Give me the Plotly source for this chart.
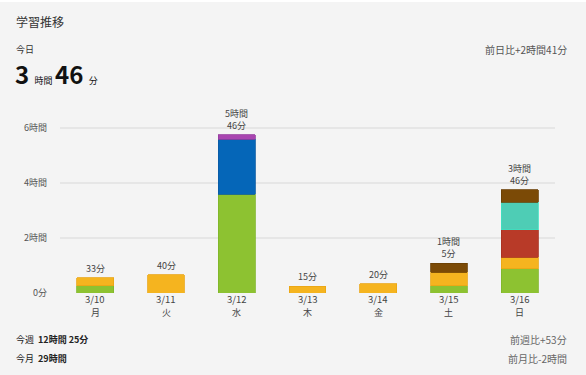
import plotly.graph_objects as go

# ---- data (minutes) ----
dates = ["3/10", "3/11", "3/12", "3/13", "3/14", "3/15", "3/16"]
weekdays = ["月", "火", "水", "木", "金", "土", "日"]
green = [16, 0, 216, 0, 0, 16, 53]
yellow = [17, 40, 0, 15, 20, 29, 25]
blue = [0, 0, 120, 0, 0, 0, 0]
purple = [0, 0, 10, 0, 0, 0, 0]
red = [0, 0, 0, 0, 0, 0, 60]
teal = [0, 0, 0, 0, 0, 0, 60]
brown = [0, 0, 0, 0, 0, 20, 28]
ytick_vals = [0, 120, 240, 360]
ytick_text = ["0分", "2時間", "4時間", "6時間"]

series = [
    ("教科1", green, "#8dc231", "#7fb52a"),
    ("教科2", yellow, "#f5b41f", "#eaa514"),
    ("教科3", blue, "#0566b8", "#0a5aa3"),
    ("教科4", purple, "#a845b0", "#963c9f"),
    ("教科5", red, "#b83a28", "#a83220"),
    ("教科6", teal, "#4ecdb5", "#3fe0c0"),
    ("教科7", brown, "#7b4a06", "#6a3f04"),
]

FONT = "Noto Sans CJK JP"

fig = go.Figure()
for name, vals, col, edge in series:
    fig.add_trace(go.Bar(
        x=dates, y=[v if v else None for v in vals], name=name,
        marker=dict(color=col, line=dict(color=edge, width=0.8)),
        hoverinfo="skip",
    ))

# pixel helpers for page-level text
L, R, T, B = 60, 31, 110, 82
W, H = 586, 375
pw, ph = W - L - R, H - T - B
def px(x):
    return (x - L) / pw
def py(y):
    return (H - B - y) / ph

totals = [sum(s[1][i] for s in series) for i in range(len(dates))]
annotations = []
for d, wd, t in zip(dates, weekdays, totals):
    h, m = divmod(t, 60)
    label = f"{h}時間<br>{m}分" if h else f"{m}分"
    annotations.append(dict(x=d, y=t, xref="x", yref="y", text=label,
                            showarrow=False, yanchor="bottom", yshift=1,
                            font=dict(size=9, color="#444", family=FONT)))
    annotations.append(dict(x=d, y=py(299), xref="x", yref="paper", text=d,
                            showarrow=False, yanchor="middle", borderpad=0,
                            font=dict(size=9.5, color="#444", family=FONT)))
    annotations.append(dict(x=d, y=py(312.5), xref="x", yref="paper", text=wd,
                            showarrow=False, yanchor="middle", borderpad=0,
                            font=dict(size=9, color="#444", family=FONT)))

def txt(x, y, text, size, color="#333", xanchor="left"):
    annotations.append(dict(x=px(x), y=py(y), xref="paper", yref="paper",
                            text=text, showarrow=False, xanchor=xanchor,
                            yanchor="middle",
                            font=dict(size=size, color=color, family=FONT)))

txt(14, 22, "学習推移", 12, "#333")
txt(14, 49, "今日", 9, "#333")
txt(13, 73, "<b>3</b> <span style='font-size:9px'>時間</span>", 24, "#111")
txt(53, 73, "<b>46</b> <span style='font-size:9px'>分</span>", 24, "#111")
txt(569, 49, "前日比+2時間41分", 10, "#555", "right")
txt(14, 339, "今週  <b>12時間 25分</b>", 9, "#222")
txt(14, 358, "今月  <b>29時間</b>", 9, "#222")
txt(569, 339, "前週比+53分", 10, "#666", "right")
txt(569, 358, "前月比-2時間", 10, "#666", "right")

fig.update_layout(
    width=W, height=H,
    margin=dict(l=L, r=R, t=T, b=B),
    barmode="stack", bargap=0.48,
    paper_bgcolor="#f4f4f4", plot_bgcolor="#f4f4f4",
    showlegend=False,
    font=dict(family=FONT, size=9, color="#444"),
    annotations=annotations,
    shapes=[dict(type="rect", xref="paper", yref="paper",
                 x0=px(0), x1=px(W), y0=py(0), y1=py(2),
                 fillcolor="#ffffff", line=dict(width=0), layer="below")],
    xaxis=dict(showgrid=False, showline=False, ticks="", showticklabels=False,
               fixedrange=True),
    yaxis=dict(range=[0, 400], tickvals=ytick_vals, ticktext=ytick_text,
               showgrid=True, gridcolor="#e6e6e6", gridwidth=1.5,
               zeroline=True, zerolinecolor="#f4f4f4", zerolinewidth=2,
               tickfont=dict(size=9, color="#555", family=FONT),
               ticklabelstandoff=12, fixedrange=True),
)

fig.write_html("out.html", config={"displayModeBar": False},
               post_script="document.body.style.margin='0';document.body.style.padding='0';")
